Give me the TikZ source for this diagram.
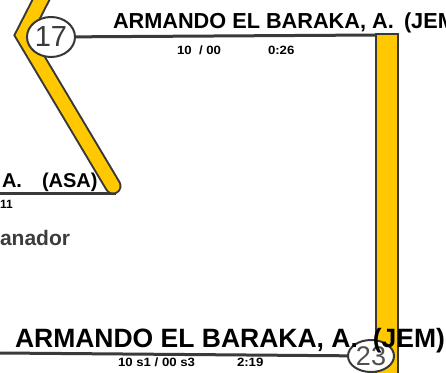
\documentclass[tikz,border=0pt]{standalone}
\usepackage{fontspec}
\setmainfont{Liberation Sans}
\usetikzlibrary{shapes.geometric}
\definecolor{yel}{HTML}{FFC800}
\definecolor{edge}{HTML}{383838}
\definecolor{linec}{HTML}{3A3A3A}
\definecolor{numc}{HTML}{3A3A3A}
\definecolor{numlight}{HTML}{505050}
\definecolor{grayt}{HTML}{3C3C3C}
\begin{document}
\begin{tikzpicture}[x=1pt,y=-1pt,
  every node/.style={inner sep=0pt, outer sep=0pt},
  conn/.style={draw=linec, line width=3pt},
  badge/.style={ellipse, draw=edge, line width=2pt, fill=white, minimum width=48pt, minimum height=40pt, text=numc, font=\fontsize{29}{29}\selectfont},
  bigname/.style={anchor=base west, font=\bfseries\fontsize{21.7}{21.7}\selectfont},
  midname/.style={anchor=base west, font=\bfseries\fontsize{20}{20}\selectfont},
  hugename/.style={anchor=base west, font=\bfseries\fontsize{26.5}{26.5}\selectfont},
  small/.style={anchor=base west, font=\bfseries\fontsize{12}{12}\selectfont},
]
\useasboundingbox (0,0) rectangle (446,372);
% left connector under the band
\coordinate (l0) at (0,193);
\coordinate (bandend) at (116,193);
\draw[conn] (l0) -- (bandend);
% yellow band (left)
\draw[draw=edge, line width=17pt, line join=miter, line cap=round] (46,-10) -- (23,35) -- (113,186);
\draw[draw=yel, line width=13pt, line join=miter, line cap=round] (46,-10) -- (23,35) -- (113,186);
% yellow bar (right)
\draw[fill=yel, draw=edge, line width=2pt] (376,34) rectangle (398,385);
\coordinate (bartl) at (376,35);
% badges
\node[badge] (c17) at (51,37) {17};
\draw[conn] (c17) -- (bartl);
\coordinate (b0) at (0,353);
\node[badge, minimum width=46pt, minimum height=32pt, text=numlight, font=\fontsize{27}{27}\selectfont] (c23) at (371,356) {23};
\draw[conn] (b0) -- (c23);
% texts
\node[bigname] (t1) at (113,28) {ARMANDO EL BARAKA, A.};
\node[bigname] (t1b) at (404,28) {(JEM};
\node[small] (s1) at (177,54) {\scalebox{1.1}[1]{10\ \ / 00}};
\node[small] (s2) at (268,54) {\scalebox{1.1}[1]{0:26}};
\node[midname] (t2) at (2,187) {A.};
\node[midname] (t2b) at (42,187) {(ASA)};
\node[small] (s3) at (0,208) {11};
\node[midname, text=grayt, font=\bfseries\fontsize{21}{21}\selectfont] (g) at (0,245) {anador};
\node[hugename] (t3) at (15,347) {ARMANDO EL BARAKA, A.};
\node[hugename, anchor=base east] (t3b) at (445,347) {(JEM)};
\node[small] (s4) at (118,366) {\scalebox{1.1}[1]{10 s1 / 00 s3}};
\node[small] (s5) at (237,366) {\scalebox{1.1}[1]{2:19}};
\end{tikzpicture}
\end{document}
